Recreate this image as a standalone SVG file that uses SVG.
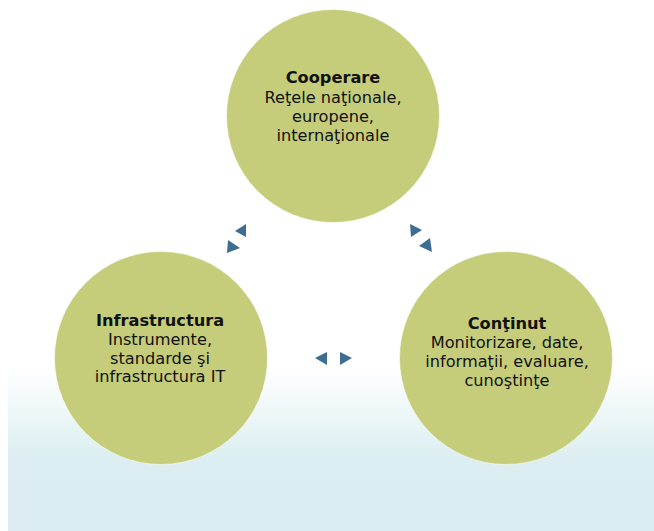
<svg xmlns="http://www.w3.org/2000/svg" width="654" height="531" viewBox="0 0 654 531">
  <defs>
    <linearGradient id="bg" x1="0" y1="0" x2="0" y2="1">
      <stop offset="0" stop-color="#ffffff"/>
      <stop offset="0.55" stop-color="#dceef1"/>
      <stop offset="1" stop-color="#dbedf0"/>
    </linearGradient>
  </defs>
  <style>
    .node { fill: #c5cd7b; stroke: #ffffff; stroke-opacity: 0.55; stroke-width: 1; }
    .lbl { font-family: "DejaVu Sans", Verdana, sans-serif; font-size: 16.2px; fill: #111111; text-anchor: middle; }
    .ttl { font-weight: bold; }
    .arrow { fill: #3d6e92; }
  </style>
  <rect x="0" y="0" width="654" height="531" fill="#ffffff"/>
  <rect x="8" y="368" width="646" height="163" fill="url(#bg)"/>

  <g id="connectors">
    <polygon class="arrow" points="235,231 246,224 246,237"/>
    <polygon class="arrow" points="228,240 227,253 240,248"/>
    <polygon class="arrow" points="410,224 411,237 422,230"/>
    <polygon class="arrow" points="419,246 430,238 432,252"/>
    <polygon class="arrow" points="315,358 327,352 327,365"/>
    <polygon class="arrow" points="340,352 340,365 352,358"/>
  </g>

  <g id="cooperare">
    <circle class="node" cx="333" cy="116" r="106.5"/>
    <text class="lbl ttl" x="333" y="83">Cooperare</text>
    <text class="lbl" x="333" y="102.5">Reţele naţionale,</text>
    <text class="lbl" x="333" y="121.5">europene,</text>
    <text class="lbl" x="333" y="140.5">internaţionale</text>
  </g>

  <g id="infrastructura">
    <circle class="node" cx="161" cy="358" r="106.5"/>
    <text class="lbl ttl" x="160" y="326">Infrastructura</text>
    <text class="lbl" x="160" y="345">Instrumente,</text>
    <text class="lbl" x="160" y="363.5">standarde şi</text>
    <text class="lbl" x="160" y="382">infrastructura IT</text>
  </g>

  <g id="continut">
    <circle class="node" cx="506" cy="358" r="106.5"/>
    <text class="lbl ttl" x="507" y="329">Conţinut</text>
    <text class="lbl" x="507" y="348">Monitorizare, date,</text>
    <text class="lbl" x="507" y="367">informaţii, evaluare,</text>
    <text class="lbl" x="507" y="386">cunoştinţe</text>
  </g>
</svg>
